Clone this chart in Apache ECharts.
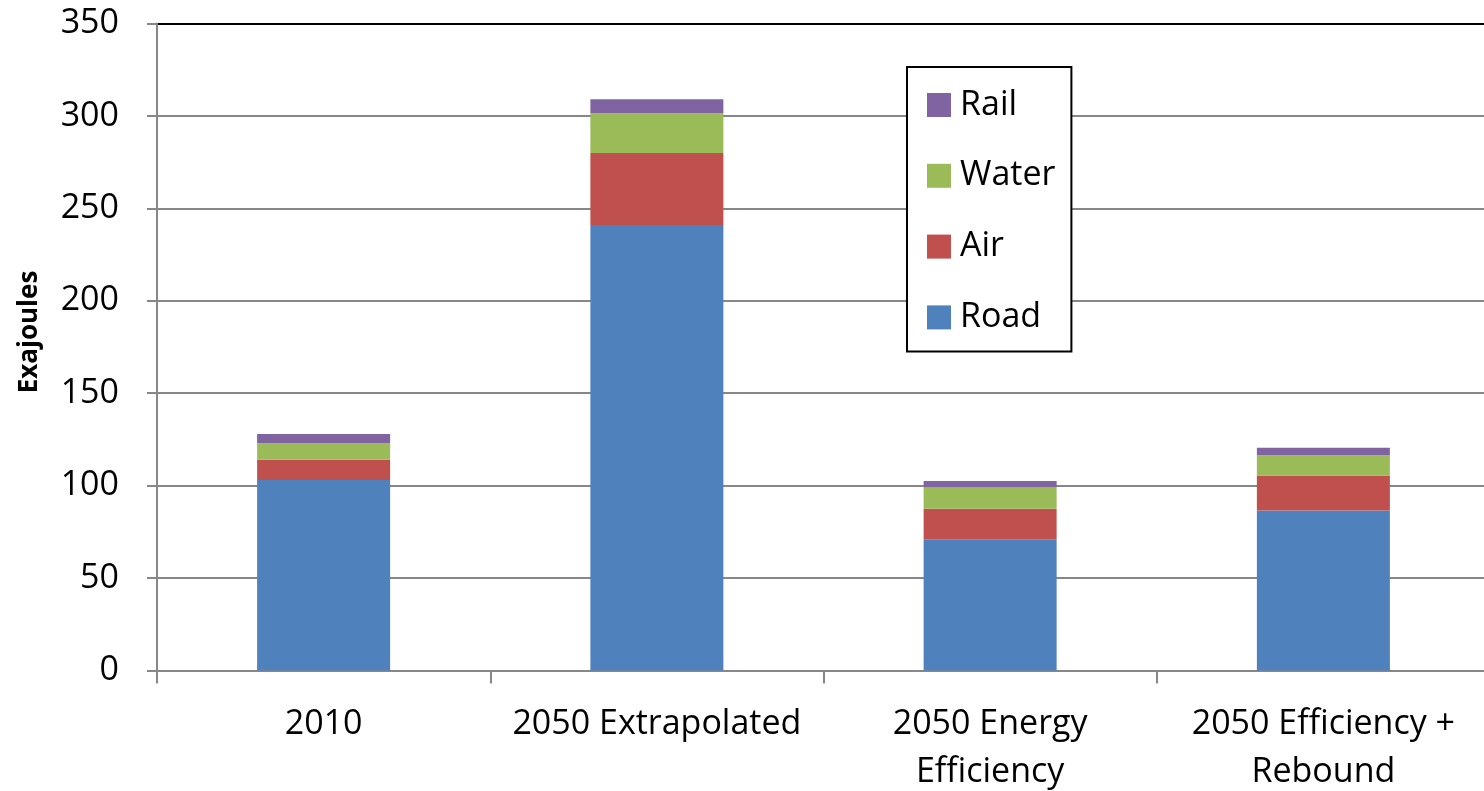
<!DOCTYPE html>
<html>
<head>
<meta charset="utf-8">
<title>Transport energy use</title>
<script src="https://cdn.jsdelivr.net/npm/echarts@6/dist/echarts.min.js"></script>
<style>
  html, body { margin: 0; padding: 0; background: #fff; }
  #chart { width: 1484px; height: 791px; }
</style>
</head>
<body>
<div id="chart"></div>
<script>
// Scenarios on the x axis
const categories = ['2010', '2050 Extrapolated', '2050 Energy\nEfficiency', '2050 Efficiency +\nRebound'];

// Energy use by transport mode, exajoules
const road  = [103, 241, 71, 86.5];
const air   = [11, 39, 16.5, 19];
const water = [9, 21.5, 11.5, 11];
const rail  = [5, 7.5, 3.5, 4];

// Value axis ticks
const yMin = 0;
const yMax = 350;
const yStep = 50;

const FONT = '"Open Sans", "Noto Sans", sans-serif';
const GRID_GRAY = '#878787';

const chart = echarts.init(document.getElementById('chart'), null, { renderer: 'canvas' });

function stackSeries(name, data, color) {
  return {
    name: name,
    type: 'bar',
    stack: 'total',
    data: data,
    barWidth: 133,
    itemStyle: { color: color },
    emphasis: { disabled: true }
  };
}

chart.setOption({
  animation: false,
  backgroundColor: '#ffffff',
  textStyle: { fontFamily: FONT },
  grid: {
    left: 157, top: 23.5, width: 1333, height: 647,
    containLabel: false,
    outerBoundsMode: 'none'
  },
  legend: {
    data: ['Rail', 'Water', 'Air', 'Road'],
    orient: 'vertical',
    left: 907,
    top: 67,
    icon: 'rect',
    itemWidth: 24,
    itemHeight: 24,
    itemGap: 36.8,
    padding: [21, 16, 17, 20],
    borderColor: '#000',
    borderWidth: 2,
    backgroundColor: '#fff',
    selectedMode: false,
    textStyle: {
      fontFamily: FONT,
      fontSize: 34,
      lineHeight: 30,
      color: '#000',
      padding: [0, 0, 0, 4]
    }
  },
  xAxis: {
    type: 'category',
    data: categories,
    axisLine: { show: true, lineStyle: { color: GRID_GRAY, width: 2 } },
    axisTick: { show: true, length: 13, alignWithLabel: false, lineStyle: { color: GRID_GRAY, width: 2 } },
    axisLabel: {
      interval: 0,
      margin: 30,
      fontSize: 34,
      lineHeight: 48,
      color: '#000',
      fontFamily: FONT
    },
    splitLine: { show: false }
  },
  yAxis: {
    type: 'value',
    min: yMin,
    max: yMax,
    interval: yStep,
    name: 'Exajoules',
    nameLocation: 'middle',
    nameRotate: 90,
    nameGap: 114,
    nameTextStyle: {
      fontFamily: FONT,
      fontSize: 26,
      fontWeight: 'bold',
      color: '#000',
      padding: [0, 0, 0, 30]
    },
    axisLine: { show: true, lineStyle: { color: GRID_GRAY, width: 2 } },
    axisTick: { show: true, length: 10, lineStyle: { color: GRID_GRAY, width: 2 } },
    axisLabel: { margin: 38, fontSize: 34, color: '#000', fontFamily: FONT },
    splitLine: {
      show: true,
      lineStyle: {
        color: [GRID_GRAY, GRID_GRAY, GRID_GRAY, GRID_GRAY, GRID_GRAY, GRID_GRAY, GRID_GRAY, '#000'],
        width: 2
      }
    }
  },
  series: [
    stackSeries('Road', road, '#4F81BD'),
    stackSeries('Air', air, '#C0504D'),
    stackSeries('Water', water, '#9BBB59'),
    stackSeries('Rail', rail, '#8064A2')
  ]
});
</script>
</body>
</html>
